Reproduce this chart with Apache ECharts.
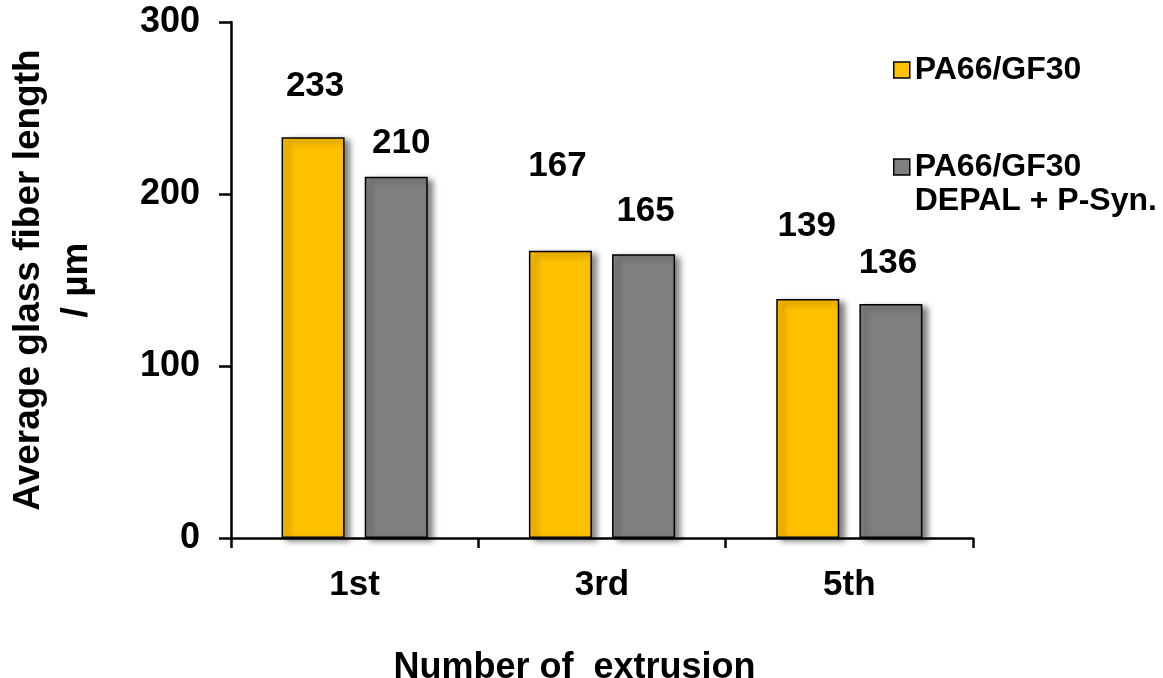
<!DOCTYPE html>
<html><head><meta charset="utf-8">
<script src="https://cdn.jsdelivr.net/npm/echarts@6/dist/echarts.min.js"></script>
<style>html,body{margin:0;padding:0;background:#fff}#c{width:1163px;height:678px}</style>
</head><body><div id="c"></div>
<script>
// ---- data ----
const categories = ['1st', '3rd', '5th'];
const seriesNames = ['PA66/GF30', 'PA66/GF30\nDEPAL + P-Syn.'];
const plainValues = [233, 167, 139];
const depalValues = [210, 165, 136];
const yTickLabels = ['0', '100', '200', '300'];

// ---- layout (label placement, as in the original) ----
const FONT = '"Liberation Sans", Arial, sans-serif';
const plainLabelDist = [33, 67, 55];
const plainLabelDx = [2, -3, -1];
const depalLabelDist = [16, 25, 23];
const depalLabelDx = [5, 2, -3];

const chart = echarts.init(document.getElementById('c'), null, {renderer: 'canvas'});

function barData(values, dist, dx) {
  return values.map((v, i) => ({value: v, label: {distance: dist[i], offset: [dx[i], 0]}}));
}

const barStyleBase = {
  borderColor: '#000', borderWidth: 1.5,
  shadowColor: 'rgba(0,0,0,0.5)', shadowBlur: 6, shadowOffsetX: 5, shadowOffsetY: 3
};
const labelBase = {
  show: true, position: 'top', color: '#000', fontFamily: FONT, fontWeight: 'bold', fontSize: 35
};
const legendBase = {
  orient: 'vertical', left: 893, padding: 0, itemWidth: 16, itemHeight: 16, itemGap: 5,
  icon: 'rect',
  itemStyle: {borderColor: '#000', borderWidth: 1.5, shadowBlur: 0, shadowColor: 'transparent', shadowOffsetX: 0, shadowOffsetY: 0},
  textStyle: {fontFamily: FONT, fontWeight: 'bold', fontSize: 32, color: '#000', lineHeight: 34}
};

chart.setOption({
  animation: false,
  backgroundColor: '#fff',
  grid: {left: 231, right: 190, top: 22, bottom: 140, containLabel: false, outerBoundsMode: 'none'},
  legend: [
    Object.assign({}, legendBase, {top: 53, data: [seriesNames[0]]}),
    // blank first line keeps the icon level with the first text line, as in the original
    Object.assign({}, legendBase, {top: 116, data: [seriesNames[1]],
      formatter: (name) => ' \n' + name})
  ],
  xAxis: {
    type: 'category', data: categories,
    axisLine: {lineStyle: {color: '#000', width: 2.5}},
    axisTick: {show: true, length: 10, lineStyle: {color: '#000', width: 2.5}},
    axisLabel: {color: '#000', fontFamily: FONT, fontWeight: 'bold', fontSize: 35, margin: 30},
    name: 'Number of  extrusion', nameLocation: 'middle', nameGap: 112,
    nameTextStyle: {color: '#000', fontFamily: FONT, fontWeight: 'bold', fontSize: 36, padding: [0, 55, 0, 0]}
  },
  yAxis: {
    type: 'value', min: 0, max: 300, interval: 100,
    splitLine: {show: false},
    axisLine: {show: true, lineStyle: {color: '#000', width: 2.5}},
    axisTick: {show: true, length: 12, lineStyle: {color: '#000', width: 2.5}},
    axisLabel: {color: '#000', fontFamily: FONT, fontWeight: 'bold', fontSize: 36, margin: 31,
      formatter: (v) => yTickLabels[yTickLabels.indexOf(String(v))] ?? String(v)},
    name: 'Average glass fiber length\n/ µm', nameLocation: 'middle', nameGap: 130,
    nameTextStyle: {color: '#000', fontFamily: FONT, fontWeight: 'bold', fontSize: 37, lineHeight: 48}
  },
  series: [
    {
      name: seriesNames[0], type: 'bar', barWidth: 63, barGap: '32%',
      itemStyle: Object.assign({color: '#FFC000'}, barStyleBase),
      label: labelBase,
      data: barData(plainValues, plainLabelDist, plainLabelDx)
    },
    {
      name: seriesNames[1], type: 'bar', barWidth: 63, barGap: '32%',
      itemStyle: Object.assign({color: '#808080'}, barStyleBase),
      label: labelBase,
      data: barData(depalValues, depalLabelDist, depalLabelDx)
    }
  ]
});
</script>
</body></html>
